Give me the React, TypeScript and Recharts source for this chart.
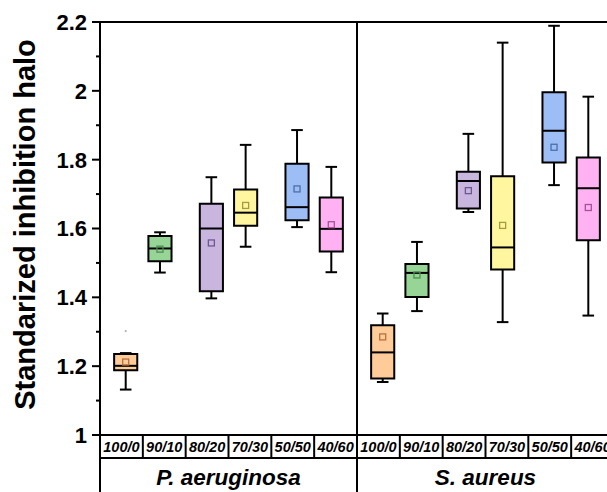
import { ComposedChart, XAxis, YAxis, Scatter, ReferenceArea, ReferenceLine } from "recharts";

const groups = ["P. aeruginosa", "S. aureus"];
const ratios = ["100/0", "90/10", "80/20", "70/30", "50/50", "40/60"];

// P. aeruginosa
const paMin = [1.132, 1.472, 1.397, 1.547, 1.604, 1.473];
const paQ1 = [1.188, 1.505, 1.418, 1.608, 1.624, 1.533];
const paMedian = [1.201, 1.542, 1.6, 1.646, 1.662, 1.599];
const paQ3 = [1.235, 1.578, 1.672, 1.713, 1.788, 1.69];
const paMax = [1.238, 1.589, 1.749, 1.843, 1.886, 1.779];
const paMean = [1.212, 1.54, 1.558, 1.667, 1.715, 1.611];

// S. aureus
const saMin = [1.154, 1.36, 1.648, 1.328, 1.726, 1.347];
const saQ1 = [1.164, 1.401, 1.658, 1.481, 1.792, 1.566];
const saMedian = [1.24, 1.471, 1.738, 1.545, 1.884, 1.717];
const saQ3 = [1.319, 1.497, 1.765, 1.752, 1.996, 1.806];
const saMax = [1.353, 1.561, 1.875, 2.14, 2.189, 1.983];
const saMean = [1.285, 1.465, 1.71, 1.609, 1.836, 1.661];

// faint outlier mark (P. aeruginosa 100/0)
const outlierGroup = [0];
const outlierRatio = [0];
const outlierValue = [1.302];

const yTicks = [1, 1.1, 1.2, 1.3, 1.4, 1.5, 1.6, 1.7, 1.8, 1.9, 2, 2.1, 2.2];

const fills = ["#FFCC99", "#96D596", "#C8B6DF", "#FFF69F", "#9CBDF6", "#FFB2F1"];
const meanStrokes = ["#B8703A", "#4E8E52", "#6E5890", "#A89A40", "#4D6FA8", "#A8509A"];

// layout: where each box sits inside its group of 6 cells
const boxOffsets = [0.6, 1.4, 2.6, 3.4, 4.6, 5.4];
const BOX_HALF = 0.27;
const CAP_HALF = 0.135;
const Y_W = 100;
const FONT = "'Liberation Sans', Arial, sans-serif";

const stats = [
  { min: paMin, q1: paQ1, median: paMedian, q3: paQ3, max: paMax, mean: paMean },
  { min: saMin, q1: saQ1, median: saMedian, q3: saQ3, max: saMax, mean: saMean },
];

const boxes = groups.flatMap((g, gi) =>
  ratios.map((r, ri) => ({
    key: `${gi}-${ri}`,
    ri,
    x: gi * ratios.length + boxOffsets[ri],
    min: stats[gi].min[ri],
    q1: stats[gi].q1[ri],
    median: stats[gi].median[ri],
    q3: stats[gi].q3[ri],
    max: stats[gi].max[ri],
    mean: stats[gi].mean[ri],
  }))
);

const outliers = outlierValue.map((v, i) => ({
  x: outlierGroup[i] * ratios.length + boxOffsets[outlierRatio[i]],
  y: v,
}));

const total = groups.length * ratios.length;
const cellTicks = Array.from({ length: total * 2 + 1 }, (_, i) => i / 2);
const groupTicks = Array.from({ length: groups.length * 2 + 1 }, (_, i) => (i * ratios.length) / 2);

function YTick(props: any) {
  const { y, payload } = props;
  const v = payload.value;
  const major = Math.round(v * 10) % 2 === 0;
  return (
    <g>
      <line x1={Y_W - (major ? 8 : 4)} x2={Y_W} y1={y} y2={y} stroke="#000" strokeWidth={2} />
      {major && (
        <text x={Y_W - 13} y={y} dy="0.36em" textAnchor="end" fontFamily={FONT} fontWeight="bold" fontSize={22} fill="#000">
          {String(v)}
        </text>
      )}
    </g>
  );
}

function CellTick(props: any) {
  const { x, y, payload } = props;
  const v = payload.value;
  if (Number.isInteger(v)) {
    return <line x1={x} x2={x} y1={y} y2={y + 23} stroke="#000" strokeWidth={2} />;
  }
  const label = ratios[Math.floor(v) % ratios.length];
  return (
    <text x={x} y={y + 17} textAnchor="middle" fontFamily={FONT} fontWeight="bold" fontStyle="italic" fontSize={14.5} fill="#000">
      {label}
    </text>
  );
}

function GroupTick(props: any) {
  const { x, y, payload } = props;
  const v = payload.value;
  if (v % ratios.length === 0) {
    return <line x1={x} x2={x} y1={y} y2={y + 60} stroke="#000" strokeWidth={2} />;
  }
  const label = groups[Math.floor(v / ratios.length)];
  return (
    <text x={x} y={y + 27} textAnchor="middle" fontFamily={FONT} fontWeight="bold" fontStyle="italic" fontSize={22.5} fill="#000">
      {label}
    </text>
  );
}

function YLabel(props: any) {
  const vb = props.viewBox;
  const cy = vb.y + vb.height / 2 - 4;
  return (
    <text x={35} y={cy} transform={`rotate(-90 35 ${cy})`} textAnchor="middle" fontFamily={FONT} fontWeight="bold" fontSize={29} fill="#000">
      Standarized inhibition halo
    </text>
  );
}

function MeanMark(props: any) {
  const { cx, cy, payload } = props;
  return <rect x={cx - 3} y={cy - 3} width={6} height={6} fill="none" stroke={meanStrokes[payload.ri]} strokeWidth={1.3} />;
}

function OutlierMark(props: any) {
  const { cx, cy } = props;
  return <circle cx={cx} cy={cy} r={1.1} fill="#b0b0b0" />;
}

export default function App() {
  return (
    <div style={{ position: "absolute", left: 0, top: 0, width: 607, height: 492, overflow: "hidden", background: "#fff" }}>
      <ComposedChart width={622} height={500} data={boxes} margin={{ top: 22, right: 8, bottom: 2, left: 0 }}>
        <XAxis
          dataKey="x"
          type="number"
          domain={[0, total]}
          allowDataOverflow
          ticks={cellTicks}
          interval={0}
          height={23}
          tickSize={0}
          tickMargin={0}
          tickLine={false}
          axisLine={{ stroke: "#000", strokeWidth: 2 }}
          tick={<CellTick />}
        />
        <XAxis
          xAxisId="grp"
          dataKey="x"
          type="number"
          domain={[0, total]}
          allowDataOverflow
          ticks={groupTicks}
          interval={0}
          height={40}
          tickSize={0}
          tickMargin={0}
          tickLine={false}
          axisLine={{ stroke: "#000", strokeWidth: 2 }}
          tick={<GroupTick />}
        />
        <YAxis
          type="number"
          domain={[1, 2.2]}
          allowDataOverflow
          ticks={yTicks}
          interval={0}
          width={Y_W}
          tickLine={false}
          axisLine={{ stroke: "#000", strokeWidth: 2 }}
          tick={<YTick />}
          label={{ content: (p: any) => <YLabel {...p} /> }}
        />
        <ReferenceLine y={2.2} stroke="#000" strokeWidth={2} ifOverflow="visible" />
        <ReferenceLine x={ratios.length} stroke="#000" strokeWidth={2} ifOverflow="visible" />
        <ReferenceLine x={total} stroke="#000" strokeWidth={2} ifOverflow="visible" />
        {boxes.map((b) => (
          <ReferenceLine
            key={`lw${b.key}`}
            segment={[{ x: b.x, y: b.min }, { x: b.x, y: b.q1 }]}
            stroke="#000"
            strokeWidth={2}
          />
        ))}
        {boxes.map((b) => (
          <ReferenceLine
            key={`uw${b.key}`}
            segment={[{ x: b.x, y: b.q3 }, { x: b.x, y: b.max }]}
            stroke="#000"
            strokeWidth={2}
          />
        ))}
        {boxes.map((b) => (
          <ReferenceLine
            key={`lc${b.key}`}
            segment={[{ x: b.x - CAP_HALF, y: b.min }, { x: b.x + CAP_HALF, y: b.min }]}
            stroke="#000"
            strokeWidth={2}
          />
        ))}
        {boxes.map((b) => (
          <ReferenceLine
            key={`uc${b.key}`}
            segment={[{ x: b.x - CAP_HALF, y: b.max }, { x: b.x + CAP_HALF, y: b.max }]}
            stroke="#000"
            strokeWidth={2}
          />
        ))}
        {boxes.map((b) => (
          <ReferenceArea
            key={`bx${b.key}`}
            x1={b.x - BOX_HALF}
            x2={b.x + BOX_HALF}
            y1={b.q1}
            y2={b.q3}
            fill={fills[b.ri]}
            fillOpacity={1}
            stroke="#000"
            strokeWidth={2}
          />
        ))}
        {boxes.map((b) => (
          <ReferenceLine
            key={`md${b.key}`}
            segment={[{ x: b.x - BOX_HALF, y: b.median }, { x: b.x + BOX_HALF, y: b.median }]}
            stroke="#000"
            strokeWidth={2}
          />
        ))}
        <Scatter dataKey="mean" data={boxes} shape={<MeanMark />} isAnimationActive={false} />
        <Scatter dataKey="y" data={outliers} shape={<OutlierMark />} legendType="none" isAnimationActive={false} />
      </ComposedChart>
    </div>
  );
}
